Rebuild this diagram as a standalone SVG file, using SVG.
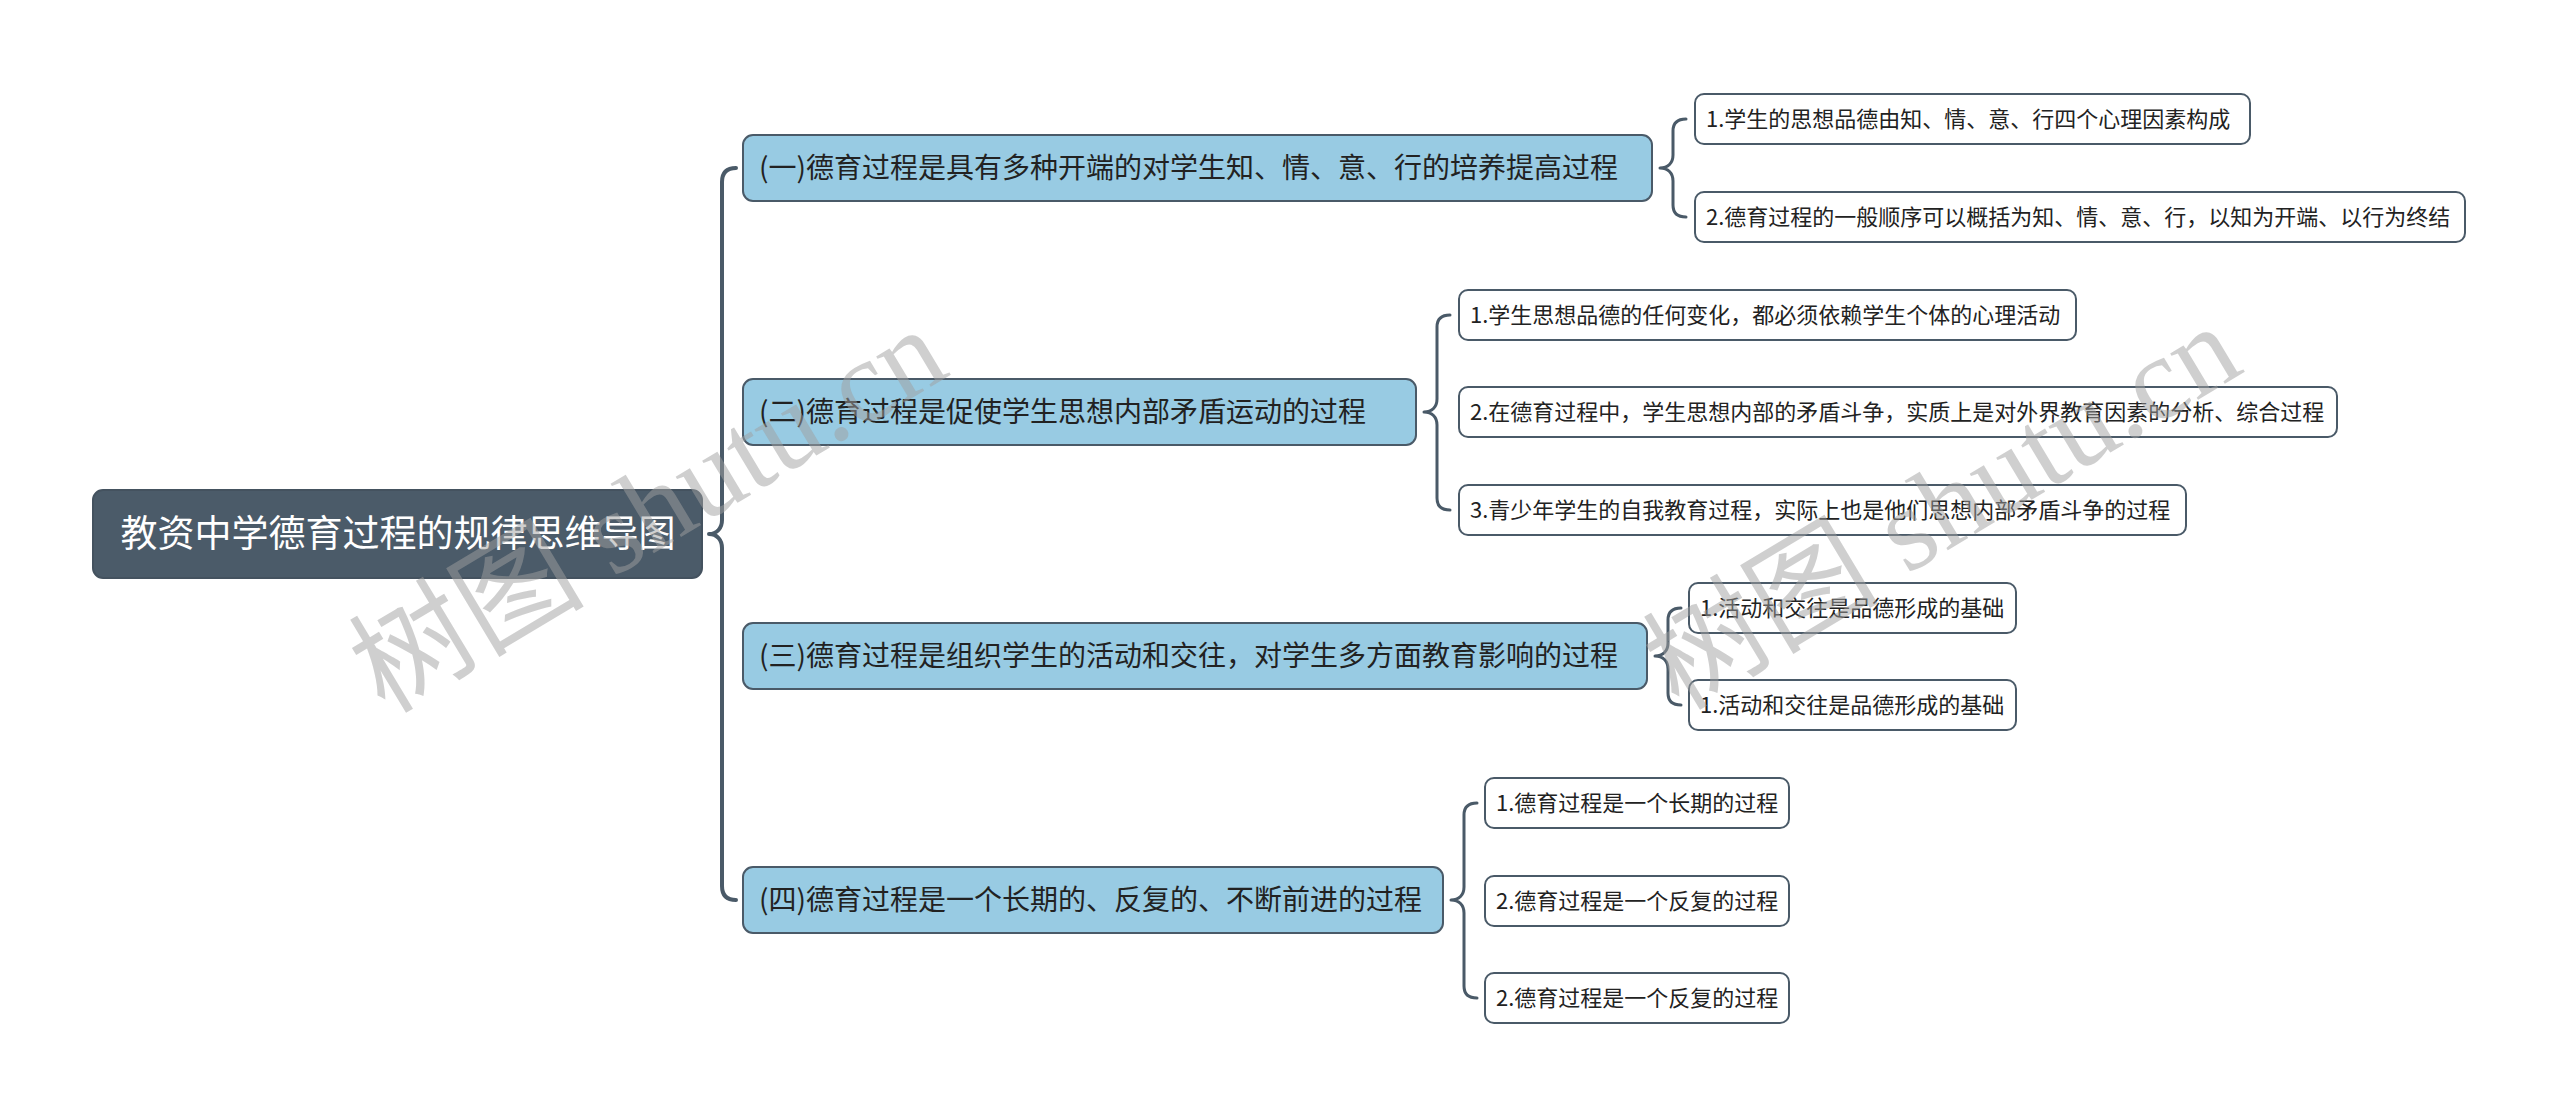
<svg xmlns="http://www.w3.org/2000/svg" width="2560" height="1118" viewBox="0 0 2560 1118">
<style>
.root{fill:#4b5b69;stroke:#44525f;stroke-width:2}
.main{fill:#98cbe3;stroke:#4a5a68;stroke-width:2}
.sub{fill:#ffffff;stroke:#4a5a68;stroke-width:2}
.t{font-family:"Noto Sans CJK SC","Noto Sans",sans-serif;fill:#222}
.rt{font-size:37px;fill:#ffffff;text-anchor:middle}
.mt{font-size:28px}
.st{font-size:22px}
.c1{fill:none;stroke:#4a5a68;stroke-width:4;stroke-linecap:round}
.c2{fill:none;stroke:#4a5a68;stroke-width:3;stroke-linecap:round}
.wm{font-family:"Liberation Serif","Noto Sans CJK SC",serif;font-size:118px;fill:#a0a0a0;fill-opacity:0.5;text-anchor:middle}
</style>
<rect width="2560" height="1118" fill="#ffffff"/>
<g id="connectors">
<path class="c1" d="M709,534 C717,534 722,528 722,520 L722,182 Q722,168 736,168 M709,534 C717,534 722,540 722,548 L722,886 Q722,900 736,900"/>
<path class="c2" d="M1660,168 C1668,168 1673,163 1673,155 L1673,131 Q1673,119 1686,119 M1660,168 C1668,168 1673,173 1673,181 L1673,205 Q1673,217 1686,217"/>
<path class="c2" d="M1424,412 C1432,412 1437,407 1437,399 L1437,327 Q1437,315 1450,315 M1424,412 C1432,412 1437,417 1437,425 L1437,498 Q1437,510 1450,510"/>
<path class="c2" d="M1655,656 C1663,656 1668,651 1668,643 L1668,620 Q1668,608 1681,608 M1655,656 C1663,656 1668,661 1668,669 L1668,693 Q1668,705 1681,705"/>
<path class="c2" d="M1451,900 C1459,900 1464,895 1464,887 L1464,815 Q1464,803 1477,803 M1451,900 C1459,900 1464,905 1464,913 L1464,986 Q1464,998 1477,998"/>
</g>
<g id="root">
<rect class="root" x="93" y="490" width="609" height="88" rx="10"/>
<text class="t rt" x="398" y="547">教资中学德育过程的规律思维导图</text>
</g>
<g id="n1">
<rect class="main" x="743" y="135" width="909" height="66" rx="10"/>
<text class="t mt" x="759" y="178">(一)德育过程是具有多种开端的对学生知、情、意、行的培养提高过程</text>
</g>
<g id="n2">
<rect class="main" x="743" y="379" width="673" height="66" rx="10"/>
<text class="t mt" x="759" y="422">(二)德育过程是促使学生思想内部矛盾运动的过程</text>
</g>
<g id="n3">
<rect class="main" x="743" y="623" width="904" height="66" rx="10"/>
<text class="t mt" x="759" y="666">(三)德育过程是组织学生的活动和交往，对学生多方面教育影响的过程</text>
</g>
<g id="n4">
<rect class="main" x="743" y="867" width="700" height="66" rx="10"/>
<text class="t mt" x="759" y="910">(四)德育过程是一个长期的、反复的、不断前进的过程</text>
</g>
<g id="n1a">
<rect class="sub" x="1695" y="94" width="555" height="50" rx="9"/>
<text class="t st" x="1706" y="127">1.学生的思想品德由知、情、意、行四个心理因素构成</text>
</g>
<g id="n1b">
<rect class="sub" x="1695" y="192" width="770" height="50" rx="9"/>
<text class="t st" x="1706" y="225">2.德育过程的一般顺序可以概括为知、情、意、行，以知为开端、以行为终结</text>
</g>
<g id="n2a">
<rect class="sub" x="1459" y="290" width="617" height="50" rx="9"/>
<text class="t st" x="1470" y="323">1.学生思想品德的任何变化，都必须依赖学生个体的心理活动</text>
</g>
<g id="n2b">
<rect class="sub" x="1459" y="387" width="878" height="50" rx="9"/>
<text class="t st" x="1470" y="420">2.在德育过程中，学生思想内部的矛盾斗争，实质上是对外界教育因素的分析、综合过程</text>
</g>
<g id="n2c">
<rect class="sub" x="1459" y="485" width="727" height="50" rx="9"/>
<text class="t st" x="1470" y="518">3.青少年学生的自我教育过程，实际上也是他们思想内部矛盾斗争的过程</text>
</g>
<g id="n3a">
<rect class="sub" x="1689" y="583" width="327" height="50" rx="9"/>
<text class="t st" x="1700" y="616">1.活动和交往是品德形成的基础</text>
</g>
<g id="n3b">
<rect class="sub" x="1689" y="680" width="327" height="50" rx="9"/>
<text class="t st" x="1700" y="713">1.活动和交往是品德形成的基础</text>
</g>
<g id="n4a">
<rect class="sub" x="1485" y="778" width="304" height="50" rx="9"/>
<text class="t st" x="1496" y="811">1.德育过程是一个长期的过程</text>
</g>
<g id="n4b">
<rect class="sub" x="1485" y="876" width="304" height="50" rx="9"/>
<text class="t st" x="1496" y="909">2.德育过程是一个反复的过程</text>
</g>
<g id="n4c">
<rect class="sub" x="1485" y="973" width="304" height="50" rx="9"/>
<text class="t st" x="1496" y="1006">2.德育过程是一个反复的过程</text>
</g>
<g id="watermark">
<text class="wm" x="648" y="550" transform="rotate(-31 648 510)">树图 shutu.cn</text>
<text class="wm" x="1942" y="547" transform="rotate(-31 1942 507)">树图 shutu.cn</text>
</g>
</svg>
